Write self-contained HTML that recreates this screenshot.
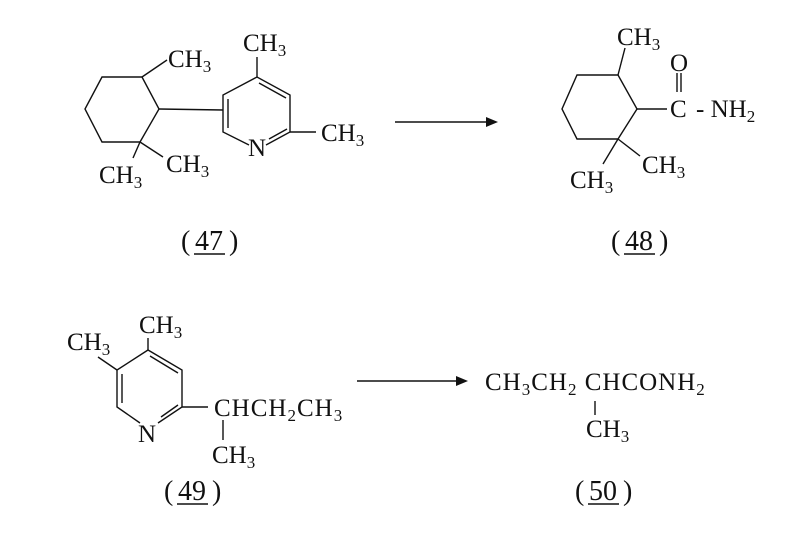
<!DOCTYPE html>
<html><head><meta charset="utf-8"><style>html,body{margin:0;padding:0;background:#fff}</style></head><body>
<svg width="808" height="547" xmlns="http://www.w3.org/2000/svg" font-family="Liberation Serif, serif" font-size="25" fill="#111">
<g stroke="#111" stroke-width="1.4" fill="none">
<polygon points="142,77 159,109 140,142 102,142 85,109 102,77"/>
<line x1="142" y1="77" x2="167" y2="60"/>
<line x1="159" y1="109" x2="223" y2="110"/>
<line x1="140" y1="142" x2="133" y2="158"/>
<line x1="140" y1="142" x2="163" y2="157"/>
<polyline points="249,145 223,132 223,95 257,77 290,95 290,132 266,145"/>
<line x1="228" y1="99" x2="228" y2="128"/>
<line x1="259" y1="83" x2="286" y2="98"/>
<line x1="269" y1="139" x2="287" y2="129"/>
<line x1="257" y1="77" x2="257" y2="57"/>
<line x1="290" y1="132" x2="316" y2="132"/>
<line x1="395" y1="122" x2="490" y2="122"/>
<polygon points="618,75 637,109 618,139 577,139 562,109 577,75"/>
<line x1="618" y1="75" x2="625" y2="48"/>
<line x1="637" y1="109" x2="667" y2="109"/>
<line x1="677" y1="73" x2="677" y2="92"/>
<line x1="681" y1="73" x2="681" y2="92"/>
<line x1="618" y1="139" x2="603" y2="164"/>
<line x1="618" y1="139" x2="640" y2="156"/>
<polyline points="140,423 117,407 117,370 148,350 182,370 182,407 158,423"/>
<line x1="122" y1="374" x2="122" y2="403"/>
<line x1="150" y1="356" x2="178" y2="373"/>
<line x1="161" y1="417" x2="178" y2="405"/>
<line x1="148" y1="350" x2="148" y2="338"/>
<line x1="117" y1="370" x2="98" y2="357"/>
<line x1="182" y1="407" x2="208" y2="407"/>
<line x1="223" y1="420" x2="223" y2="440"/>
<line x1="357" y1="381" x2="460" y2="381"/>
<line x1="595" y1="401" x2="595" y2="415"/>
<line x1="194" y1="254" x2="225" y2="254"/>
<line x1="624" y1="254" x2="655" y2="254"/>
<line x1="177" y1="504" x2="208" y2="504"/>
<line x1="588" y1="504" x2="619" y2="504"/>
</g>
<polygon points="498,122 486,117 486,127" fill="#111"/>
<polygon points="468,381 456,376 456,386" fill="#111"/>
<text x="168" y="67">CH<tspan font-size="17" dy="5">3</tspan></text>
<text x="99" y="183">CH<tspan font-size="17" dy="5">3</tspan></text>
<text x="166" y="172">CH<tspan font-size="17" dy="5">3</tspan></text>
<text x="243" y="51">CH<tspan font-size="17" dy="5">3</tspan></text>
<text x="248" y="156">N</text>
<text x="321" y="141">CH<tspan font-size="17" dy="5">3</tspan></text>
<text x="617" y="45">CH<tspan font-size="17" dy="5">3</tspan></text>
<text x="670" y="71">O</text>
<text x="670" y="117">C</text>
<text x="696" y="117">- NH<tspan font-size="17" dy="5">2</tspan></text>
<text x="570" y="188">CH<tspan font-size="17" dy="5">3</tspan></text>
<text x="642" y="173">CH<tspan font-size="17" dy="5">3</tspan></text>
<text x="139" y="333">CH<tspan font-size="17" dy="5">3</tspan></text>
<text x="67" y="350">CH<tspan font-size="17" dy="5">3</tspan></text>
<text x="138" y="442">N</text>
<text x="214" y="416" letter-spacing="1">CHCH<tspan font-size="17" dy="5">2</tspan><tspan dy="-5">CH</tspan><tspan font-size="17" dy="5">3</tspan></text>
<text x="212" y="463">CH<tspan font-size="17" dy="5">3</tspan></text>
<text x="485" y="390" letter-spacing="1">CH<tspan font-size="17" dy="5">3</tspan><tspan dy="-5">CH</tspan><tspan font-size="17" dy="5">2</tspan><tspan dy="-5"> CHCONH</tspan><tspan font-size="17" dy="5">2</tspan></text>
<text x="586" y="437">CH<tspan font-size="17" dy="5">3</tspan></text>
<g font-size="28">
<text x="181" y="250">(</text><text x="195" y="250">47</text><text x="229" y="250">)</text>
<text x="611" y="250">(</text><text x="625" y="250">48</text><text x="659" y="250">)</text>
<text x="164" y="500">(</text><text x="178" y="500">49</text><text x="212" y="500">)</text>
<text x="575" y="500">(</text><text x="589" y="500">50</text><text x="623" y="500">)</text>
</g>
</svg>
</body></html>
